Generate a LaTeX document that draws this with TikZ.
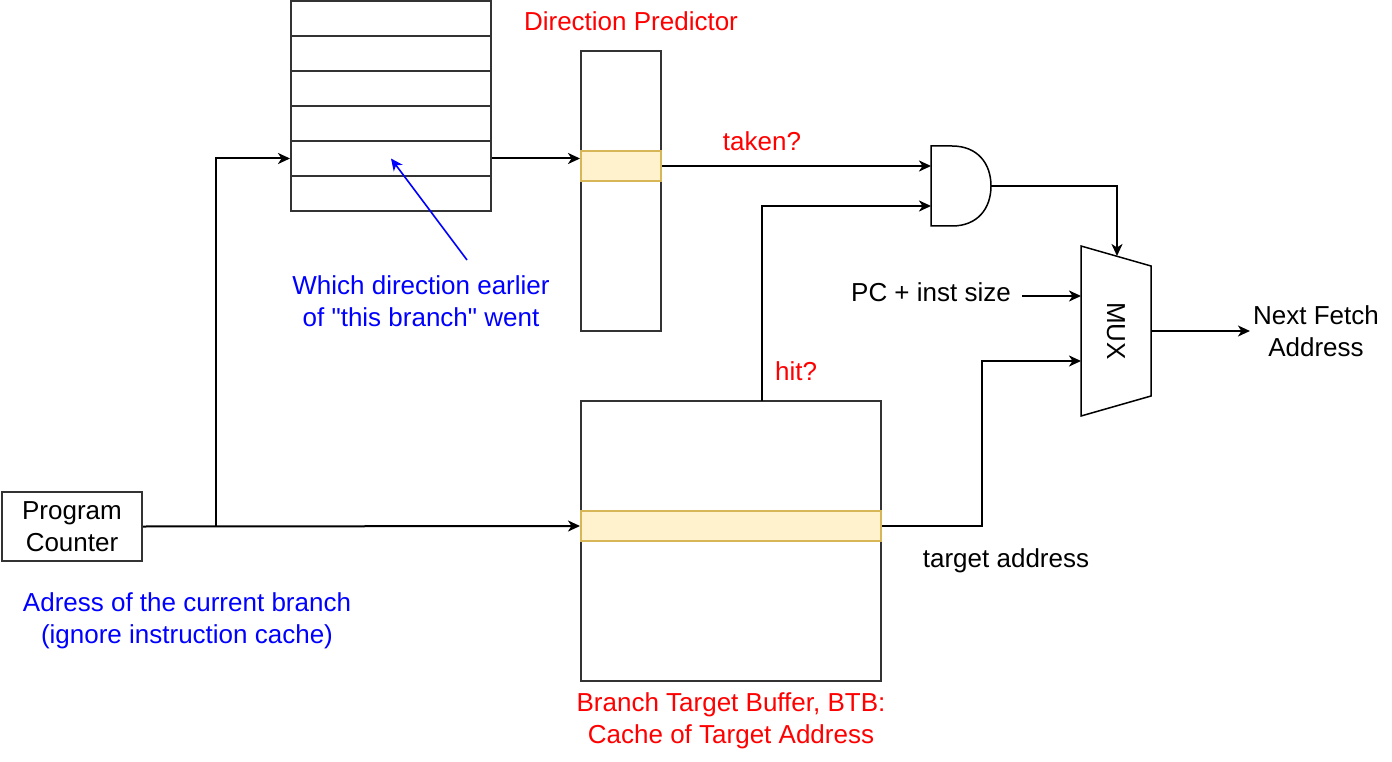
\documentclass[tikz,border=0pt]{standalone}
\usepackage{fontspec}
\setmainfont{Liberation Sans}
\usetikzlibrary{shapes,arrows.meta,positioning}
\definecolor{hlfill}{HTML}{FFF2CC}
\definecolor{hlline}{HTML}{D6B656}
\tikzset{
	lbl/.style={inner sep=0pt,align=center,font=\fontsize{26}{32}\selectfont},
	box/.style={draw=black!80,line width=2pt,inner sep=0pt},
	hl/.style={draw=hlline,fill=hlfill,line width=2pt,inner sep=0pt},
	wire/.style={line width=2pt,line join=miter},
	tip/.style={-{Stealth[length=12pt,width=11pt,inset=3.5pt]}},
	arr/.style={wire,tip},
}

\begin{document}
\begin{tikzpicture}[x=1pt,y=-1pt]
			\useasboundingbox (0,0) rectangle (1392,762);
			% history table
			\foreach \i in {0,...,5} \node[box,minimum width=200pt,minimum height=35pt] (row\i) at (391,18.5+35*\i) {};
			% direction predictor and BTB
			\node[box,minimum width=80pt,minimum height=280pt] (dp) at (621,191) {};
			\node[hl,minimum width=80pt,minimum height=30pt] (dphl) at (621,166) {};
			\node[box,minimum width=300pt,minimum height=280pt] (btb) at (731,541) {};
			\node[hl,minimum width=300pt,minimum height=30pt] (btbhl) at (731,526) {};
			\node[box,lbl,minimum width=140pt,minimum height=69pt] (pc) at (72,526.5) {Program\\Counter};
			% and gate, mux
			\draw[line width=1.5pt] (931,146) -- (952,146) .. controls (978,146) and (991,164) .. (991,186) .. controls (991,208) and (978,226) .. (952,226) -- (931,226) -- cycle;
			\draw[line width=1.5pt] (1081,246) -- (1151,266) -- (1151,396) -- (1081,416) -- cycle;
			\node[lbl,rotate=-90] (mux) at (1116,331) {MUX};
			\coordinate (and1) at (931,166);
			\coordinate (and2) at (931,206);
			\coordinate (andout) at (991,186);
			\coordinate (muxtop) at (1117,256);
			\coordinate (mux1) at (1081,296);
			\coordinate (mux2) at (1081,361);
			\coordinate (muxout) at (1151,331);
			\coordinate (junc) at (216,526);
			\coordinate (hit) at (762,401);
			\coordinate (pcin) at (1022,296);
			\coordinate (wtail) at (467,260);
			% labels
			\node[lbl,red] (dplbl) at (631,21) {Direction Predictor};
			\node[lbl,red] (taken) at (762,141) {taken?};
			\node[lbl,red] (hitlbl) at (796,371) {hit?};
			\node[lbl,blue] (which) at (421,301) {Which direction earlier\\of \textquotedbl this branch\textquotedbl{} went};
			\node[lbl] (pcinst) at (931,292) {PC + inst size};
			\node[lbl,inner sep=3pt] (nfa) at (1316,331) {Next Fetch\\Address};
			\node[lbl] (tgt) at (1006,561) {target address};
			\node[lbl,blue] (addr) at (187,621) {Adress of the current branch\\(ignore instruction cache)};
			\node[lbl,red] (btblbl) at (731,721) {Branch Target Buffer, BTB:\\Cache of Target Address};
			% connectors
			\draw[arr] (pc.east) -- (btbhl.west);
			\draw[arr] (junc) |- (row4.west);
			\draw[arr] (row4.east) -- (row4.east -| dp.west);
			\draw[arr] (dphl.east) -- (and1);
			\draw[arr] (hit) |- (and2);
			\draw[arr] (andout) -| (muxtop);
			\draw[arr] (pcin) -- (mux1);
			\draw[arr] (btbhl.east) -- ++(100,0) |- (mux2);
			\draw[arr] (muxout) -- (nfa.west);
			\draw[blue,line width=1.6pt,tip] (wtail) -- (row4.center);
		\end{tikzpicture}
\end{document}
